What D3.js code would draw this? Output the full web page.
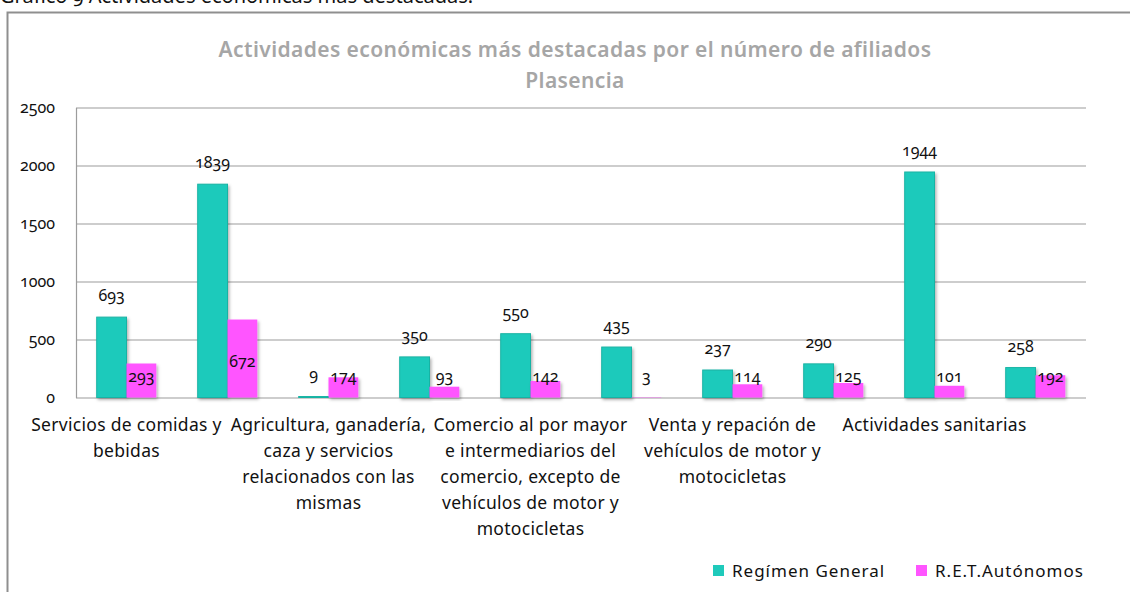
<!DOCTYPE html>
<html>
<head>
<meta charset="utf-8">
<script src="https://cdn.jsdelivr.net/npm/d3@7"></script>
<style>
  body { margin: 0; background: #fff; }
  svg text { font-family: "Noto Sans", sans-serif; font-variant-numeric: oldstyle-nums; }
</style>
</head>
<body>
<svg id="chart" width="1130" height="592"></svg>
<script>
// etiquetas de categoría (solo se ven una de cada dos)
const categoryLines = [
    ["Servicios de comidas y", "bebidas"],
    [],
    ["Agricultura, ganadería,", "caza y servicios", "relacionados con las", "mismas"],
    [],
    ["Comercio al por mayor", "e intermediarios del", "comercio, excepto de", "vehículos de motor y", "motocicletas"],
    [],
    ["Venta y repación de", "vehículos de motor y", "motocicletas"],
    [],
    ["Actividades sanitarias"],
    []
]
const series = ["Regímen General", "R.E.T.Autónomos"]
const general = [693, 1839, 9, 350, 550, 435, 237, 290, 1944, 258]
const autonomos = [293, 672, 174, 93, 142, 3, 114, 125, 101, 192]
const yTicks = [0, 500, 1000, 1500, 2000, 2500]

const colors = ["#1fcabb", "#ff55ff"]

const svg = d3.select("#chart")

const plot = {left: 76, right: 1086, top: 107.5, bottom: 397.5}

// marco exterior y pie de gráfico
svg.append("rect")
    .attr("x", 7.5).attr("y", 12.5)
    .attr("width", 1300).attr("height", 800)
    .attr("fill", "none")
    .attr("stroke", "#8f8f8f")
    .attr("stroke-width", 2)

svg.append("text")
    .attr("x", 0).attr("y", 3)
    .style("font-size", "20px")
    .attr("fill", "#111")
    .text("Gráfico 9 Actividades económicas más destacadas.")

// sombra de las barras
const defs = svg.append("defs")
const f = defs.append("filter").attr("id", "shadow")
    .attr("x", "-20%").attr("y", "-20%").attr("width", "150%").attr("height", "150%")
f.append("feDropShadow")
    .attr("dx", 1.5).attr("dy", 2)
    .attr("stdDeviation", 1.5)
    .attr("flood-color", "#000")
    .attr("flood-opacity", 0.3)

// título
const title = svg.append("text")
    .attr("text-anchor", "middle")
    .attr("fill", "#a6a6a6")
    .style("font-size", "21px")
    .style("font-weight", "600")
    .style("letter-spacing", "0.4px")
title.append("tspan").attr("x", 575).attr("y", 57)
    .text("Actividades económicas más destacadas por el número de afiliados")
title.append("tspan").attr("x", 575).attr("y", 88).text("Plasencia")

const y = d3.scaleLinear()
    .domain([0, d3.max(yTicks)])
    .range([plot.bottom, plot.top])

const x = d3.scaleBand()
    .domain(d3.range(categoryLines.length))
    .range([plot.left, plot.right])
    .paddingInner(0.41)
    .paddingOuter(0.205)

const x1 = d3.scaleBand()
    .domain(series)
    .range([0, x.bandwidth()])

// líneas de cuadrícula
svg.append("g")
    .attr("transform", "translate(" + plot.left + ",0)")
    .call(d3.axisLeft(y).tickValues(yTicks).tickSize(-(plot.right - plot.left)).tickFormat(""))
    .call(g => g.select(".domain").remove())
    .call(g => g.selectAll(".tick line").attr("stroke", "#9c9c9c").attr("stroke-width", 1.2))

// eje y
svg.append("g")
    .attr("transform", "translate(" + plot.left + ",0)")
    .call(d3.axisLeft(y).tickValues(yTicks).tickFormat(d3.format("d")).tickSize(0).tickSizeOuter(0).tickPadding(21))
    .call(g => g.select(".domain").attr("stroke", "#9c9c9c").attr("stroke-width", 1.2))
    .call(g => g.selectAll(".tick text")
        .style("font-size", "16px")
        .style("font-family", "\"Noto Sans\", sans-serif")
        .attr("fill", "#111"))

// barras
const rows = general.map((g, i) => ({i: i, values: [g, autonomos[i]]}))

const grp = svg.selectAll(".grp")
    .data(rows)
    .enter().append("g")
    .attr("class", "grp")
    .attr("transform", d => "translate(" + x(d.i) + ",0)")

grp.selectAll("rect")
    .data(d => d.values.map((v, k) => ({k: k, v: v})))
    .enter().append("rect")
    .attr("x", d => x1(series[d.k]))
    .attr("width", x1.bandwidth())
    .attr("y", d => y(d.v))
    .attr("height", d => y(0) - y(d.v))
    .attr("fill", d => colors[d.k])
    .attr("stroke", d => d.k == 0 ? "#19b3a4" : "none")
    .attr("stroke-width", 1)
    .attr("filter", "url(#shadow)")

// etiquetas de datos
grp.append("text")
    .attr("text-anchor", "middle")
    .attr("x", x1(series[0]) + x1.bandwidth() / 2)
    .attr("y", d => y(d.values[0]) - 16)
    .style("font-size", "16px")
    .attr("fill", "#111")
    .text(d => d.values[0])

grp.append("text")
    .attr("text-anchor", "middle")
    .attr("x", x1(series[1]) + x1.bandwidth() / 2)
    .attr("y", d => Math.min(377, (y(d.values[1]) + y(0)) / 2 + 3.5) + 5)
    .style("font-size", "16px")
    .attr("fill", "#111")
    .text(d => d.values[1])

// etiquetas del eje x
const xl = svg.selectAll(".xlab")
    .data(categoryLines.map((lines, i) => ({i: i, lines: lines})))
    .enter().append("text")
    .attr("class", "xlab")
    .attr("text-anchor", "middle")
    .style("font-size", "17.5px")
    .style("letter-spacing", "0.3px")
    .attr("fill", "#111")

xl.selectAll("tspan")
    .data(d => d.lines.map(l => ({i: d.i, l: l})))
    .enter().append("tspan")
    .attr("x", d => x(d.i) + x.bandwidth() / 2)
    .attr("y", (d, j) => 431 + j * 26)
    .text(d => d.l)

// leyenda
const legendX = [713, 916]
const leg = svg.selectAll(".leg")
    .data(series)
    .enter().append("g")
    .attr("class", "leg")
    .attr("transform", (d, i) => "translate(" + legendX[i] + ",565)")
leg.append("rect")
    .attr("width", 11).attr("height", 11)
    .attr("fill", (d, i) => colors[i])
leg.append("text")
    .attr("x", 19).attr("y", 12)
    .style("font-size", "17px")
    .style("letter-spacing", "1px")
    .attr("fill", "#111")
    .text(d => d)
</script>
</body>
</html>
